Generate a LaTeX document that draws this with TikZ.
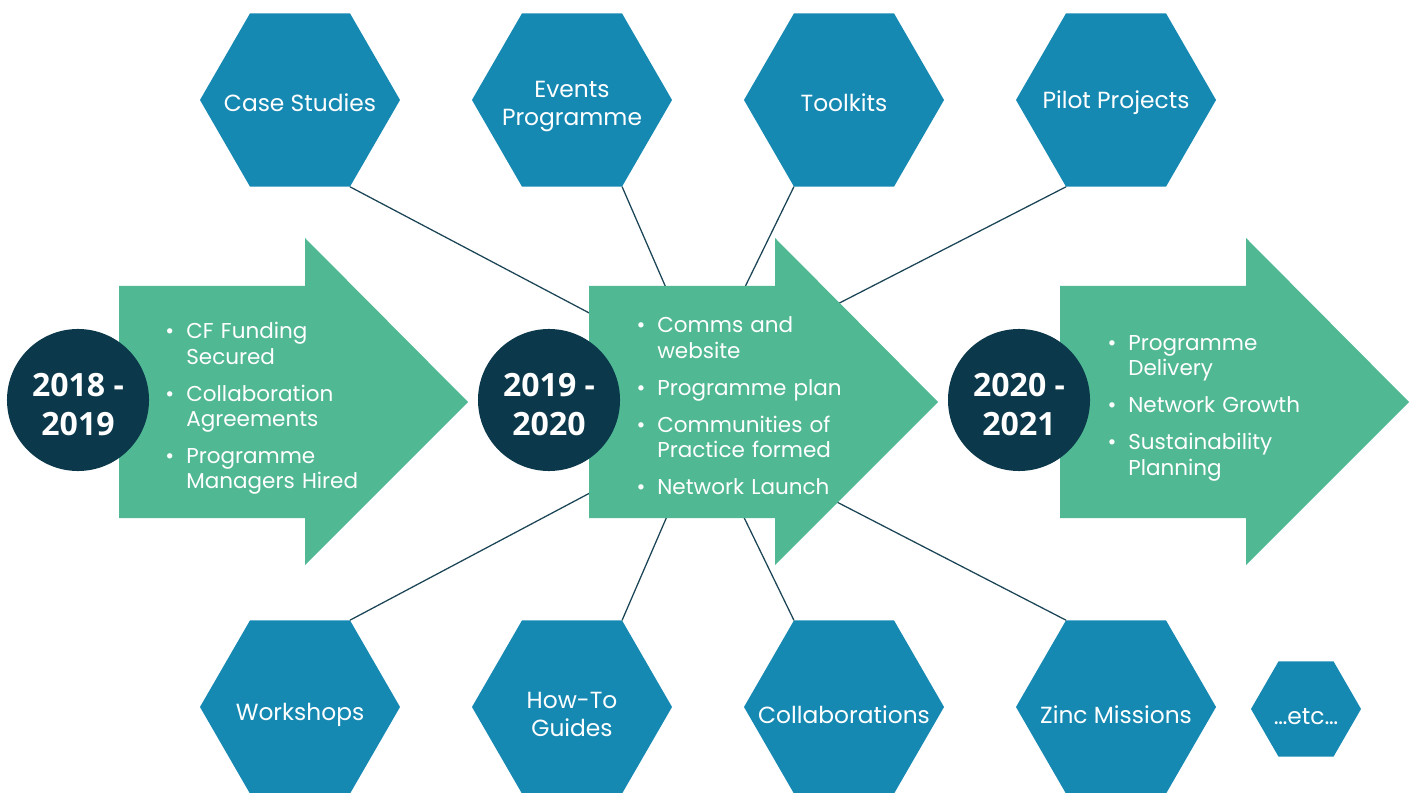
\documentclass[tikz,border=0pt]{standalone}
\usepackage{fontspec}
\setmainfont{Poppins}
\newfontfamily\yearfont{Open Sans}
\usepackage{xcolor}
\usetikzlibrary{shapes.geometric,positioning,calc}
\definecolor{hexblue}{HTML}{1689B3}
\definecolor{phasegreen}{HTML}{51B894}
\definecolor{yearnavy}{HTML}{0B394B}
\definecolor{linknavy}{HTML}{1B4556}
\newenvironment{phaselist}{\begin{list}{\textbullet}{\setlength\leftmargin{17.8pt}\setlength\labelsep{8.5pt}%
  \setlength\labelwidth{9.3pt}\setlength\itemsep{8.2pt}\setlength\parsep{0pt}\setlength\topsep{0pt}%
  \setlength\partopsep{0pt}\setlength\itemindent{0pt}}}{\end{list}}
\newcommand\phasearrow[1]{\fill[phasegreen,shift={(#1,0)}] (119,286) -- (305,286) -- (305,238) -- (468,402) -- (305,565) -- (305,518) -- (119,518) -- cycle;}

\begin{document}
\begin{tikzpicture}[x=0.025cm,y=-0.025cm,line cap=round,line join=round,
  hextext/.style={inner sep=0pt,text=white,align=center,yshift=-2pt,font=\fontsize{16.6}{19.9}\selectfont},
  hexa/.style={regular polygon,regular polygon sides=6,minimum size=5cm,inner sep=0pt,
    fill=hexblue,label={[hextext]center:{#1}}},
  yeartext/.style={inner sep=0pt,text=white,align=center,yshift=-3.5pt,
    font=\yearfont\bfseries\fontsize{22.8}{27.7}\selectfont},
  year/.style={circle,minimum size=3.55cm,inner sep=0pt,fill=yearnavy,label={[yeartext]center:{#1}}},
  items/.style={anchor=west,inner sep=0pt,text=white,text width=6.5cm,
    font=\fontsize{15.3}{18.1}\selectfont},
  link/.style={linknavy,line width=0.9pt}]
\useasboundingbox (0,0) rectangle (1413,793);
% top row
\node[hexa={Case Studies}] (case) at (300,100) {};
\begin{scope}[hextext/.append style={yshift=-2.5pt}]
\node[hexa={Events\\Programme}] (events) at (572,100) {};
\end{scope}
\node[hexa={Toolkits}] (toolkits) at (844,100) {};
\node[hexa={Pilot Projects}] (pilot) at (1116,100) {};
% bottom row, labels sit a little lower
\begin{scope}[hextext/.append style={yshift=-3.5pt}]
\node[hexa={Workshops}] (workshops) at (300,707) {};
\node[hexa={How-To\\Guides}] (howto) at (572,707) {};
\node[hexa={Collaborations}] (collab) at (844,707) {};
\node[hexa={Zinc Missions}] (zinc) at (1116,707) {};
\node[hexa={…etc…},minimum size=2.75cm] (etc) at (1306,709) {};
\end{scope}
% links meet behind the middle arrow
\coordinate (hubtop) at (703,373);
\coordinate (hubbot) at (703,433);
\draw[link] (case.-60) -- (hubtop);
\draw[link] (events.-60) -- (hubtop);
\draw[link] (toolkits.-120) -- (hubtop);
\draw[link] (pilot.-120) -- (hubtop);
\draw[link] (workshops.60) -- (hubbot);
\draw[link] (howto.60) -- (hubbot);
\draw[link] (collab.120) -- (hubbot);
\draw[link] (zinc.120) -- (hubbot);
% phases
\phasearrow{0}
\phasearrow{470}
\phasearrow{941}
\node[year={2018 -\\2019}] (y1) at (78,400) {};
\node[year={2019 -\\2020}] (y2) at (549,400) {};
\node[year={2020 -\\2021}] (y3) at (1019,400) {};
\node[items] (l1) at (161,404) {\begin{phaselist}\item CF Funding\\Secured \item Collaboration\\Agreements \item Programme\\Managers Hired\end{phaselist}};
\node[items] (l2) at (632,401) {\begin{phaselist}\item Comms and\\website \item Programme plan \item Communities of\\Practice formed \item Network Launch\end{phaselist}};
\node[items] (l3) at (1103,403) {\begin{phaselist}\item Programme\\Delivery \item Network Growth \item Sustainability\\Planning\end{phaselist}};
\end{tikzpicture}
\end{document}
